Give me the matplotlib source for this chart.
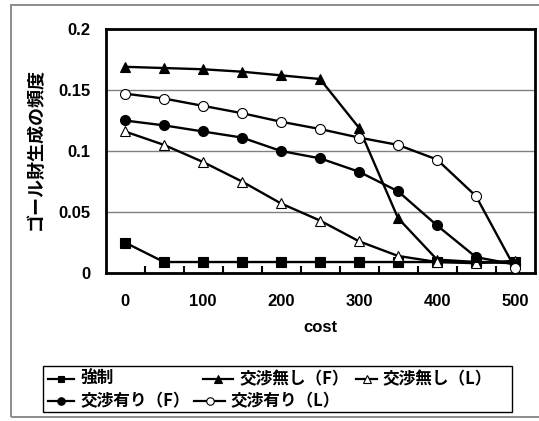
import matplotlib
matplotlib.use("Agg")
import matplotlib.pyplot as plt
from matplotlib.lines import Line2D
from matplotlib.patches import Rectangle

# --- data -------------------------------------------------------------
cost = [0, 50, 100, 150, 200, 250, 300, 350, 400, 450, 500]

forced = [0.025, 0.009, 0.009, 0.009, 0.009, 0.009, 0.009, 0.009, 0.009, 0.009, 0.009]
no_nego_f = [0.169, 0.168, 0.167, 0.165, 0.162, 0.159, 0.119, 0.045, 0.011, 0.009, 0.008]
no_nego_l = [0.116, 0.105, 0.091, 0.075, 0.057, 0.043, 0.026, 0.014, 0.009, 0.008, 0.010]
nego_f = [0.125, 0.121, 0.116, 0.111, 0.100, 0.094, 0.083, 0.067, 0.039, 0.013, 0.007]
nego_l = [0.147, 0.143, 0.137, 0.131, 0.124, 0.118, 0.111, 0.105, 0.093, 0.063, 0.004]

series_names = ["強制", "交渉無し（F）", "交渉無し（L）", "交渉有り（F）", "交渉有り（L）"]
y_ticks = [0, 0.05, 0.1, 0.15, 0.2]
y_tick_labels = ["0", "0.05", "0.1", "0.15", "0.2"]
x_tick_labels = ["0", "100", "200", "300", "400", "500"]

# --- figure -----------------------------------------------------------
W, H = 539, 421
fig = plt.figure(figsize=(W / 100, H / 100), dpi=100)
fig.patch.set_facecolor("white")

JP = ["Noto Sans CJK JP", "DejaVu Sans"]
NUM = ["Liberation Sans", "DejaVu Sans"]
NUM_SIZE = 12
JP_SIZE = 12


def fx(px):
    return px / W


def fy(py):
    return 1 - py / H


# outer chart frame
fig.add_artist(Rectangle((fx(11), fy(417)), fx(560) - fx(11), fy(5) - fy(417),
                         transform=fig.transFigure, fill=False,
                         edgecolor="#8c8c8c", linewidth=1.4))

ax = fig.add_axes([fx(105.5), fy(273), fx(534.5) - fx(105.5), fy(29) - fy(273)])

styles = [
    dict(marker="s", mfc="black", ms=6.5),
    dict(marker="^", mfc="black", ms=7.5),
    dict(marker="^", mfc="white", ms=7.5),
    dict(marker="o", mfc="black", ms=7.2),
    dict(marker="o", mfc="white", ms=7.2),
]
data = [forced, no_nego_f, no_nego_l, nego_f, nego_l]

for vals, st in zip(data, styles):
    ax.plot(cost, vals, color="black", linewidth=1.7, marker=st["marker"],
            markerfacecolor=st["mfc"], markeredgecolor="black",
            markeredgewidth=0.8, markersize=st["ms"], zorder=3, clip_on=False)

ax.set_xlim(-25, 525)
ax.set_ylim(0, 0.2)

ax.set_yticks(y_ticks)
ax.set_yticklabels(y_tick_labels, fontfamily=NUM, fontweight="bold", fontsize=NUM_SIZE)
ax.tick_params(axis="y", length=0, pad=11)

ax.set_xticks(list(range(0, 501, 100)))
ax.set_xticklabels(x_tick_labels, fontfamily=NUM, fontweight="bold", fontsize=NUM_SIZE)
ax.set_xticks(list(range(25, 500, 50)), minor=True)
ax.tick_params(axis="x", which="major", length=0, pad=15)
ax.tick_params(axis="x", which="minor", direction="in", length=5, width=1.5)

ax.grid(axis="y", color="#808080", linewidth=1.0)
ax.set_axisbelow(True)
for s in ax.spines.values():
    s.set_linewidth(2.0)
    s.set_color("black")

ax.set_xlabel("cost", fontfamily=NUM, fontweight="bold", fontsize=NUM_SIZE, labelpad=8)
fig.text(fx(35), fy(149), "ゴール財生成の頻度", rotation=90, ha="center", va="center",
         fontfamily=JP, fontweight="bold", fontsize=13)

# --- legend -----------------------------------------------------------
fig.add_artist(Rectangle((fx(43), fy(412)), fx(512) - fx(43), fy(366) - fy(412),
                         transform=fig.transFigure, fill=False,
                         edgecolor="black", linewidth=1.0))

legend_slots = [
    (48, 74, 80, 379),
    (203, 233, 239, 379),
    (356, 377, 382, 379),
    (48, 74, 80, 401),
    (194, 225, 230, 401),
]
for (x0, x1, xt, yy), name, st in zip(legend_slots, series_names, styles):
    fig.add_artist(Line2D([fx(x0), fx(x1)], [fy(yy), fy(yy)], transform=fig.transFigure,
                          color="black", linewidth=1.6))
    fig.add_artist(Line2D([fx((x0 + x1) / 2)], [fy(yy)], transform=fig.transFigure,
                          marker=st["marker"], markerfacecolor=st["mfc"],
                          markeredgecolor="black", markeredgewidth=0.8,
                          markersize=st["ms"] * 0.75, linestyle="none"))
    fig.text(fx(xt), fy(yy), name, ha="left", va="center", fontfamily=JP,
             fontweight="bold", fontsize=JP_SIZE)

fig.savefig("out.png", dpi=100)
